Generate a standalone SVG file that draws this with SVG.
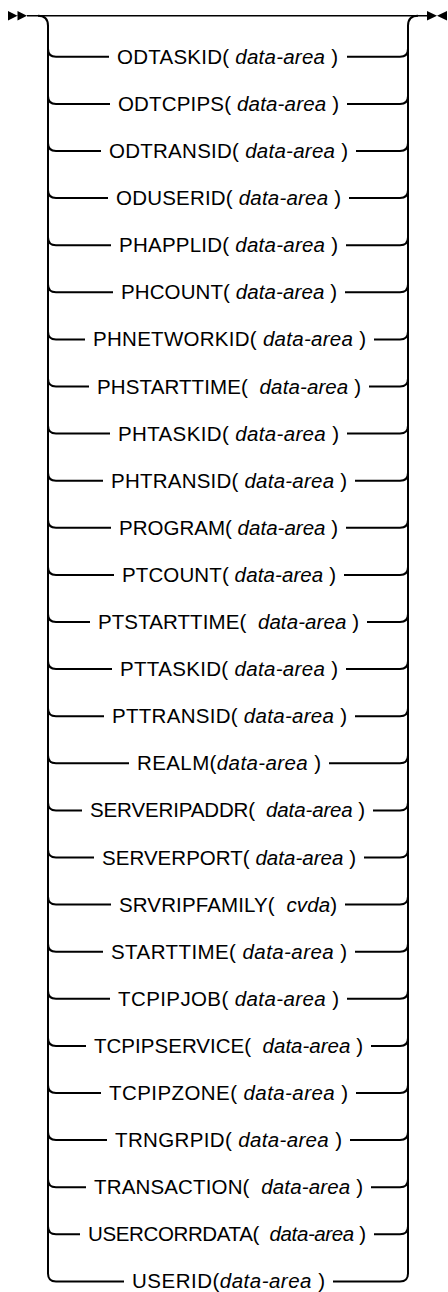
<svg xmlns="http://www.w3.org/2000/svg" width="448" height="1292" viewBox="0 0 448 1292">
<style>
.main{fill:none;stroke:#000;stroke-width:1.4}
.rail{fill:none;stroke:#000;stroke-width:2}
.end{fill:#000;stroke:none}
text{font-family:"Liberation Sans",Arial,sans-serif;font-size:20.5px;fill:#000}
.v{font-style:italic}
</style>
<rect width="448" height="1292" fill="#fff"/>
<g id="connectors">
<path class="end" d="M8 11L17.5 15.7L8 20.4ZM17.5 11L27 15.7L17.5 20.4Z"/>
<path class="end" d="M427 11L437 15.7L427 20.4ZM447 11L437 15.7L447 20.4Z"/>
<path class="main" d="M27 15.7H427"/>
<path class="rail" d="M38 15.7Q48 15.7 48 25.7V1273.4Q48 1281.4 56 1281.4H124"/>
<path class="rail" d="M418 15.7Q408 15.7 408 25.7V1273.4Q408 1281.4 400 1281.4H333"/>
<path class="rail" d="M48 48.8Q48 56.8 56 56.8H109M347 56.8H400Q408 56.8 408 48.8"/>
<path class="rail" d="M48 95.9Q48 103.9 56 103.9H110M347 103.9H400Q408 103.9 408 95.9"/>
<path class="rail" d="M48 143Q48 151 56 151H101M356 151H400Q408 151 408 143"/>
<path class="rail" d="M48 190.1Q48 198.1 56 198.1H108M349 198.1H400Q408 198.1 408 190.1"/>
<path class="rail" d="M48 237.2Q48 245.2 56 245.2H111M346 245.2H400Q408 245.2 408 237.2"/>
<path class="rail" d="M48 284.3Q48 292.3 56 292.3H113M345 292.3H400Q408 292.3 408 284.3"/>
<path class="rail" d="M48 331.4Q48 339.4 56 339.4H85M374 339.4H400Q408 339.4 408 331.4"/>
<path class="rail" d="M48 378.5Q48 386.5 56 386.5H89M369 386.5H400Q408 386.5 408 378.5"/>
<path class="rail" d="M48 425.6Q48 433.6 56 433.6H110M347 433.6H400Q408 433.6 408 425.6"/>
<path class="rail" d="M48 472.7Q48 480.7 56 480.7H103M355 480.7H400Q408 480.7 408 472.7"/>
<path class="rail" d="M48 519.8Q48 527.8 56 527.8H111M346 527.8H400Q408 527.8 408 519.8"/>
<path class="rail" d="M48 566.9Q48 574.9 56 574.9H114M344 574.9H400Q408 574.9 408 566.9"/>
<path class="rail" d="M48 614Q48 622 56 622H90M367 622H400Q408 622 408 614"/>
<path class="rail" d="M48 661.1Q48 669.1 56 669.1H112M346 669.1H400Q408 669.1 408 661.1"/>
<path class="rail" d="M48 708.2Q48 716.2 56 716.2H104M355 716.2H400Q408 716.2 408 708.2"/>
<path class="rail" d="M48 755.3Q48 763.3 56 763.3H129M329 763.3H400Q408 763.3 408 755.3"/>
<path class="rail" d="M48 802.4Q48 810.4 56 810.4H82M373 810.4H400Q408 810.4 408 802.4"/>
<path class="rail" d="M48 849.5Q48 857.5 56 857.5H94M364 857.5H400Q408 857.5 408 849.5"/>
<path class="rail" d="M48 896.6Q48 904.6 56 904.6H111M345 904.6H400Q408 904.6 408 896.6"/>
<path class="rail" d="M48 943.7Q48 951.7 56 951.7H103M355 951.7H400Q408 951.7 408 943.7"/>
<path class="rail" d="M48 990.8Q48 998.8 56 998.8H110M347 998.8H400Q408 998.8 408 990.8"/>
<path class="rail" d="M48 1037.9Q48 1045.9 56 1045.9H86M371 1045.9H400Q408 1045.9 408 1037.9"/>
<path class="rail" d="M48 1085Q48 1093 56 1093H101M356 1093H400Q408 1093 408 1085"/>
<path class="rail" d="M48 1132.1Q48 1140.1 56 1140.1H107M350 1140.1H400Q408 1140.1 408 1132.1"/>
<path class="rail" d="M48 1179.2Q48 1187.2 56 1187.2H86M371 1187.2H400Q408 1187.2 408 1179.2"/>
<path class="rail" d="M48 1226.3Q48 1234.3 56 1234.3H80M374 1234.3H400Q408 1234.3 408 1226.3"/>
</g>
<g id="n-odtaskid"><text x="117" y="63.8" textLength="221">ODTASKID( <tspan class="v">data-area</tspan> )</text></g>
<g id="n-odtcpips"><text x="118" y="110.9" textLength="221">ODTCPIPS( <tspan class="v">data-area</tspan> )</text></g>
<g id="n-odtransid"><text x="109" y="158" textLength="239">ODTRANSID( <tspan class="v">data-area</tspan> )</text></g>
<g id="n-oduserid"><text x="116" y="205.1" textLength="225">ODUSERID( <tspan class="v">data-area</tspan> )</text></g>
<g id="n-phapplid"><text x="119" y="252.2" textLength="219">PHAPPLID( <tspan class="v">data-area</tspan> )</text></g>
<g id="n-phcount"><text x="121" y="299.3" textLength="216">PHCOUNT( <tspan class="v">data-area</tspan> )</text></g>
<g id="n-phnetworkid"><text x="93" y="346.4" textLength="273">PHNETWORKID( <tspan class="v">data-area</tspan> )</text></g>
<g id="n-phstarttime"><text x="97" y="393.5" textLength="264" xml:space="preserve">PHSTARTTIME(  <tspan class="v">data-area</tspan> )</text></g>
<g id="n-phtaskid"><text x="118" y="440.6" textLength="221">PHTASKID( <tspan class="v">data-area</tspan> )</text></g>
<g id="n-phtransid"><text x="111" y="487.7" textLength="236">PHTRANSID( <tspan class="v">data-area</tspan> )</text></g>
<g id="n-program"><text x="119" y="534.8" textLength="219">PROGRAM( <tspan class="v">data-area</tspan> )</text></g>
<g id="n-ptcount"><text x="122" y="581.9" textLength="214">PTCOUNT( <tspan class="v">data-area</tspan> )</text></g>
<g id="n-ptstarttime"><text x="98" y="629" textLength="261" xml:space="preserve">PTSTARTTIME(  <tspan class="v">data-area</tspan> )</text></g>
<g id="n-pttaskid"><text x="120" y="676.1" textLength="218">PTTASKID( <tspan class="v">data-area</tspan> )</text></g>
<g id="n-pttransid"><text x="112" y="723.2" textLength="235">PTTRANSID( <tspan class="v">data-area</tspan> )</text></g>
<g id="n-realm"><text x="137" y="770.3" textLength="184">REALM(<tspan class="v">data-area</tspan> )</text></g>
<g id="n-serveripaddr"><text x="90" y="817.4" textLength="275" xml:space="preserve">SERVERIPADDR(  <tspan class="v">data-area</tspan> )</text></g>
<g id="n-serverport"><text x="102" y="864.5" textLength="254">SERVERPORT( <tspan class="v">data-area</tspan> )</text></g>
<g id="n-srvripfamily"><text x="119" y="911.6" textLength="218" xml:space="preserve">SRVRIPFAMILY(  <tspan class="v">cvda</tspan>)</text></g>
<g id="n-starttime"><text x="111" y="958.7" textLength="236">STARTTIME( <tspan class="v">data-area</tspan> )</text></g>
<g id="n-tcpipjob"><text x="118" y="1005.8" textLength="221">TCPIPJOB( <tspan class="v">data-area</tspan> )</text></g>
<g id="n-tcpipservice"><text x="94" y="1052.9" textLength="269" xml:space="preserve">TCPIPSERVICE(  <tspan class="v">data-area</tspan> )</text></g>
<g id="n-tcpipzone"><text x="109" y="1100" textLength="239">TCPIPZONE( <tspan class="v">data-area</tspan> )</text></g>
<g id="n-trngrpid"><text x="115" y="1147.1" textLength="227">TRNGRPID( <tspan class="v">data-area</tspan> )</text></g>
<g id="n-transaction"><text x="94" y="1194.2" textLength="269" xml:space="preserve">TRANSACTION(  <tspan class="v">data-area</tspan> )</text></g>
<g id="n-usercorrdata"><text x="88" y="1241.3" textLength="278" xml:space="preserve">USERCORRDATA(  <tspan class="v">data-area</tspan> )</text></g>
<g id="n-userid"><text x="132" y="1288.4" textLength="193">USERID(<tspan class="v">data-area</tspan> )</text></g>
</svg>
